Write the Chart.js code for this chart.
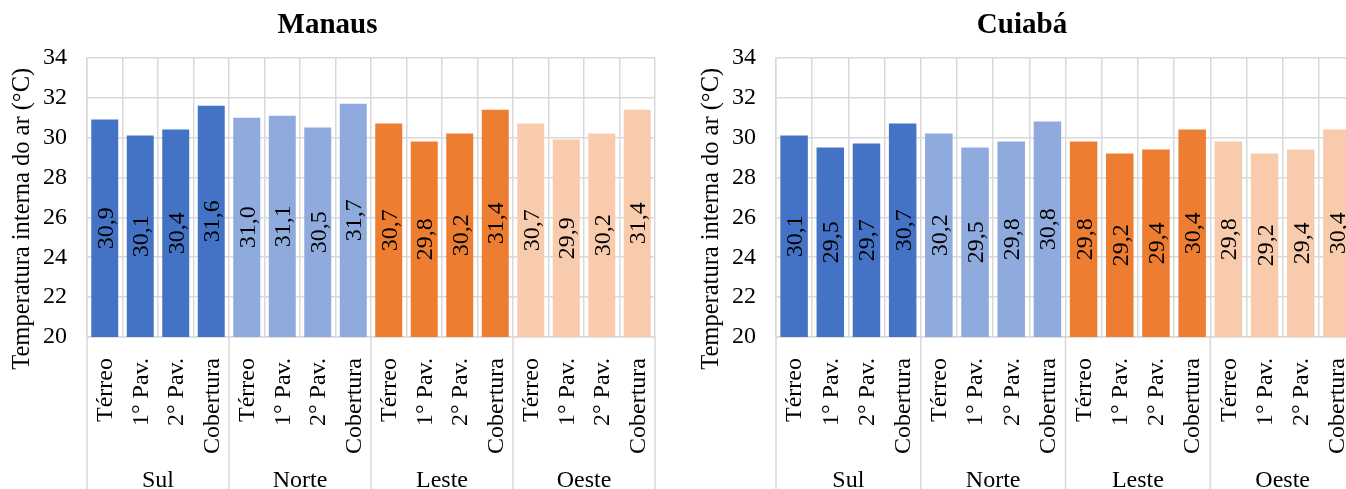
<!DOCTYPE html>
<html lang="pt-BR">
<head>
<meta charset="utf-8">
<title>Temperatura interna do ar – Manaus e Cuiabá</title>
<script src="https://cdn.jsdelivr.net/npm/chart.js@4/dist/chart.umd.min.js"></script>
<style>
  html, body { margin: 0; padding: 0; background: #fff; overflow: hidden; width: 1346px; height: 489px; }
  .painel { position: absolute; top: 0; }
  #manaus { left: 0; }
  #cuiaba { left: 689px; }
</style>
</head>
<body>
<canvas id="manaus" class="painel" width="667" height="489"></canvas>
<canvas id="cuiaba" class="painel" width="678" height="489"></canvas>
<script>
// Categorias
const pavimentos = ['Térreo', '1° Pav.', '2° Pav.', 'Cobertura'];
const orientacoes = ['Sul', 'Norte', 'Leste', 'Oeste'];
const coresOrientacao = ['#4472C4', '#8FAADC', '#ED7D31', '#F8CBAD'];

// Escala do eixo vertical (°C)
const escalaTemperatura = [20, 22, 24, 26, 28, 30, 32, 34];

// Temperatura interna do ar (°C) – Manaus
const manausSul   = [30.9, 30.1, 30.4, 31.6];
const manausNorte = [31.0, 31.1, 30.5, 31.7];
const manausLeste = [30.7, 29.8, 30.2, 31.4];
const manausOeste = [30.7, 29.9, 30.2, 31.4];

// Temperatura interna do ar (°C) – Cuiabá
const cuiabaSul   = [30.1, 29.5, 29.7, 30.7];
const cuiabaNorte = [30.2, 29.5, 29.8, 30.8];
const cuiabaLeste = [29.8, 29.2, 29.4, 30.4];
const cuiabaOeste = [29.8, 29.2, 29.4, 30.4];

const fonte = "'Liberation Serif', 'Times New Roman', serif";
const corGrade = '#d9d9d9';

// Valor de cada barra, girado, no meio da barra
const rotulosBarras = {
  id: 'rotulosBarras',
  afterDatasetsDraw(chart) {
    const ctx = chart.ctx;
    const escalaX = chart.scales.x;
    const escalaY = chart.scales.y;
    const valores = chart.data.datasets[0].data;
    const base = escalaY.getPixelForValue(escalaY.min);
    ctx.save();
    ctx.font = `24px ${fonte}`;
    ctx.fillStyle = '#000';
    ctx.textAlign = 'center';
    ctx.textBaseline = 'alphabetic';
    valores.forEach((v, i) => {
      const px = escalaX.getPixelForValue(i);
      const topo = escalaY.getPixelForValue(v);
      ctx.save();
      ctx.translate(px, (topo + base) / 2);
      ctx.rotate(-Math.PI / 2);
      ctx.fillText(v.toFixed(1).replace('.', ','), 0, 8);
      ctx.restore();
    });
    ctx.restore();
  }
};

// Segundo nível do eixo horizontal: orientação das fachadas
const eixoOrientacoes = {
  id: 'eixoOrientacoes',
  afterDraw(chart) {
    const { ctx, chartArea, scales: { x } } = chart;
    const total = chart.data.labels.length;
    const limite = (i) => {
      if (i <= 0) return chartArea.left;
      if (i >= total) return chartArea.right;
      return (x.getPixelForValue(i - 1) + x.getPixelForValue(i)) / 2;
    };
    ctx.save();
    ctx.strokeStyle = corGrade;
    ctx.lineWidth = 1.5;
    for (let g = 0; g <= orientacoes.length; g++) {
      const px = limite(g * pavimentos.length);
      ctx.beginPath();
      ctx.moveTo(px, chartArea.bottom);
      ctx.lineTo(px, chart.height);
      ctx.stroke();
    }
    ctx.font = `24px ${fonte}`;
    ctx.fillStyle = '#000';
    ctx.textAlign = 'center';
    ctx.textBaseline = 'alphabetic';
    orientacoes.forEach((nome, g) => {
      const a = limite(g * pavimentos.length);
      const b = limite((g + 1) * pavimentos.length);
      ctx.fillText(nome, (a + b) / 2, chart.height - 2);
    });
    ctx.restore();
  }
};

// Título do eixo vertical
const tituloEixoY = {
  id: 'tituloEixoY',
  afterDraw(chart) {
    const { ctx, chartArea } = chart;
    ctx.save();
    ctx.translate(chartArea.left - 64, chartArea.top + 161);
    ctx.rotate(-Math.PI / 2);
    ctx.font = `24.5px ${fonte}`;
    ctx.fillStyle = '#000';
    ctx.textAlign = 'center';
    ctx.textBaseline = 'middle';
    ctx.fillText('Temperatura interna do ar (°C)', 0, 0);
    ctx.restore();
  }
};

function criarPainel(id, cidade, series) {
  const valores = series.flat();
  const rotulos = orientacoes.flatMap(() => pavimentos);
  const cores = orientacoes.flatMap((_, g) => pavimentos.map(() => coresOrientacao[g]));
  return new Chart(document.getElementById(id), {
    type: 'bar',
    data: {
      labels: rotulos,
      datasets: [{
        data: valores,
        backgroundColor: cores,
        barPercentage: 0.76,
        categoryPercentage: 1
      }]
    },
    options: {
      responsive: false,
      animation: false,
      layout: { padding: { left: 0, right: 12, top: 0, bottom: 0 } },
      plugins: {
        legend: { display: false },
        tooltip: { enabled: false },
        title: {
          display: true,
          text: cidade,
          color: '#000',
          font: { family: fonte, size: 29, weight: 'bold' },
          padding: { top: 8, bottom: 15 }
        }
      },
      scales: {
        x: {
          grid: { color: corGrade, lineWidth: 1.5, drawTicks: false, offset: true },
          border: { color: corGrade, width: 1.5 },
          ticks: {
            color: '#000',
            font: { family: fonte, size: 24 },
            minRotation: 90,
            maxRotation: 90,
            autoSkip: false,
            padding: 21,
            labelOffset: 1
          },
          afterFit(scale) {
            scale.height = 152;
            scale.paddingLeft = 0;
            scale.paddingRight = 0;
          }
        },
        y: {
          min: escalaTemperatura[0],
          max: escalaTemperatura[escalaTemperatura.length - 1],
          grid: { color: corGrade, lineWidth: 1.5, drawTicks: false },
          border: { color: corGrade, width: 1.5 },
          ticks: {
            stepSize: escalaTemperatura[1] - escalaTemperatura[0],
            color: '#000',
            font: { family: fonte, size: 24 },
            padding: 20
          },
          afterFit(scale) { scale.width = 87; }
        }
      }
    },
    plugins: [rotulosBarras, eixoOrientacoes, tituloEixoY]
  });
}

criarPainel('manaus', 'Manaus', [manausSul, manausNorte, manausLeste, manausOeste]);
criarPainel('cuiaba', 'Cuiabá', [cuiabaSul, cuiabaNorte, cuiabaLeste, cuiabaOeste]);
</script>
</body>
</html>
